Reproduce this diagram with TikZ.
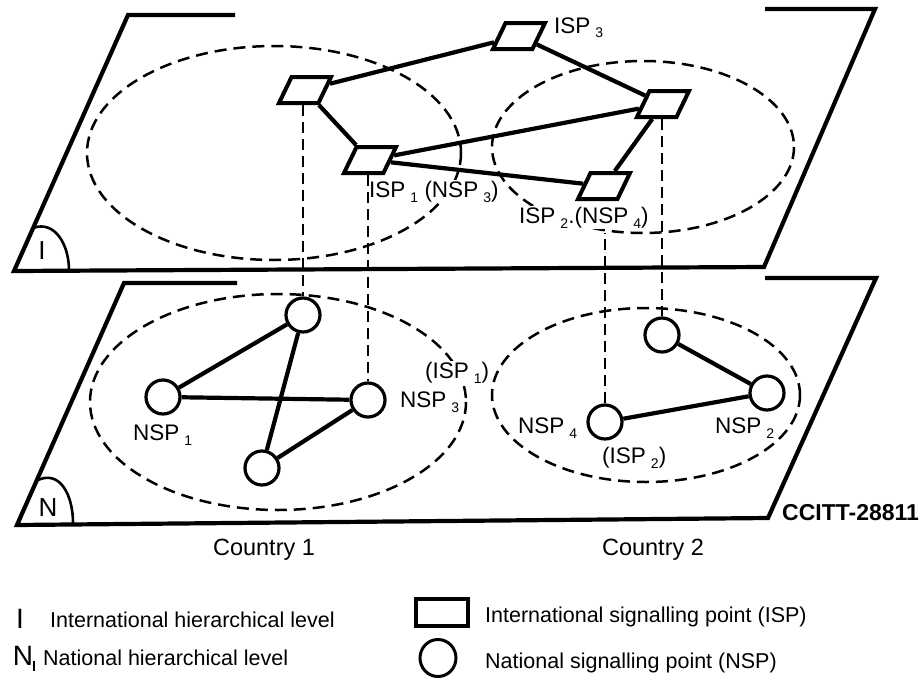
\documentclass[tikz,border=0pt]{standalone}
\usepackage{fontspec}
\setmainfont{Liberation Sans}
\usetikzlibrary{shapes.geometric}
\newcommand\lsub[1]{\hspace{5pt}\raisebox{-5pt}{\fontsize{14}{14}\selectfont #1}}
\begin{document}
\begin{tikzpicture}[x=1pt,y=-1pt,
  plane/.style={line width=4.2pt, line join=miter},
  isp/.style={trapezium, trapezium left angle=65, trapezium right angle=115,
    trapezium stretches=true, draw, line width=4pt, minimum width=52pt,
    minimum height=26pt, inner sep=1pt},
  nsp/.style={circle, draw, line width=3.2pt, minimum size=34pt, inner sep=0pt},
  link/.style={line width=4.2pt},
  vdash/.style={line width=2.5pt, dash pattern=on 11pt off 6pt},
  area/.style={line width=2.5pt, dash pattern=on 12pt off 7pt},
  lbl/.style={font=\fontsize{22.5}{26}\selectfont, inner sep=1pt, fill=white},
  leg/.style={font=\fontsize{21.5}{24}\selectfont, inner sep=0pt},
]
\useasboundingbox (0,0) rectangle (924,680);

% planes
\draw[plane] (235,15) -- (128,15) -- (14,271) -- (764,267) -- (875,9) -- (765,9);
\draw[plane] (237,283) -- (124,283) -- (17,525) -- (768,518) -- (876,278) -- (765,278);
\draw[line width=2.6pt] (33,228) .. controls (55,220) and (69,245) .. (69,270);
\draw[line width=2.6pt] (38,480) .. controls (60,470) and (73,495) .. (73,523);
\node[font=\fontsize{26}{26}\selectfont, inner sep=0pt] (lvI) at (42,251) {I};
\node[font=\fontsize{26}{26}\selectfont, inner sep=0pt] (lvN) at (48,508) {N};

% domain ellipses
\draw[area] (274,153) ellipse [x radius=187, y radius=107];
\draw[area] (643,147) ellipse [x radius=151, y radius=86];
\draw[area] (278,402) ellipse [x radius=188, y radius=108];
\draw[area] (646,395) ellipse [x radius=154, y radius=87];

% labels
\node[lbl, anchor=base west] (tI3) at (553,33) {ISP\lsub{3}};
\node[lbl, anchor=base west] (tI1) at (368,197) {ISP\lsub{1} (NSP\lsub{3})};
\node[lbl, anchor=base west] (tI2) at (518,223) {ISP\lsub{2}.(NSP\lsub{4})};
\node[lbl, anchor=base west] (tI1b) at (424,378) {(ISP\lsub{1})};
\node[lbl, anchor=base west] (tN3) at (399,407) {NSP\lsub{3}};
\node[lbl, anchor=base west] (tN1) at (132,440) {NSP\lsub{1}};
\node[lbl, anchor=base west] (tN4) at (517,433) {NSP\lsub{4}};
\node[lbl, anchor=base west] (tI2b) at (601,463) {(ISP\lsub{2})};
\node[lbl, anchor=base west] (tN2) at (714,433) {NSP\lsub{2}};
\node[lbl, anchor=base west, font=\fontsize{23}{26}\selectfont\bfseries] (tcc) at (781,520) {CCITT-28811};
\node[lbl, anchor=base, font=\fontsize{23.5}{26}\selectfont] (tc1) at (264,555) {Country 1};
\node[lbl, anchor=base, font=\fontsize{23.5}{26}\selectfont] (tc2) at (653,555) {Country 2};

% international signalling points
\node[isp] (ia) at (305,90) {};
\node[isp] (i1) at (370,160) {};
\node[isp] (i3) at (519,36) {};
\node[isp] (ir) at (663,104) {};
\node[isp] (i2) at (604,186) {};

% national signalling points
\node[nsp] (c1) at (303,315) {};
\node[nsp] (n1) at (163,397) {};
\node[nsp] (n3) at (368,400) {};
\node[nsp] (c4) at (262,468) {};
\node[nsp] (c5) at (662,335) {};
\node[nsp] (n2) at (767,393) {};
\node[nsp] (n4) at (605,422) {};

% links
\draw[link] (ia) -- (i3);
\draw[link] (ia) -- (i1);
\draw[link] (i3) -- (ir);
\draw[link] (i1) -- (ir);
\draw[link] (i1) -- (i2);
\draw[link] (i2) -- (ir);
\draw[link] (n1) -- (c1);
\draw[link] (n1) -- (n3);
\draw[link] (c1) -- (c4);
\draw[link] (c4) -- (n3);
\draw[link] (c5) -- (n2);
\draw[link] (n4) -- (n2);

% vertical correspondences
\coordinate (e4) at (605,233);
\draw[vdash] (c1.north |- ia.south) -- (c1.north);
\draw[vdash] (n3.north |- i1.south) -- (n3.north);
\draw[vdash] (c5.north |- ir.south) -- (c5.north);
\draw[vdash] (n4.north) -- (e4);

% legend
\node[font=\fontsize{28}{28}\selectfont, inner sep=0pt, anchor=base] (lgI) at (20,628) {I};
\node[leg, anchor=base west] (lgIt) at (50,627) {International hierarchical level};
\node[font=\fontsize{28}{28}\selectfont, inner sep=0pt, anchor=base] (lgN) at (23,665) {N};
\coordinate (tk1) at (34,661);
\coordinate (tk2) at (34,671);
\draw[line width=1.8pt] (tk1) -- (tk2);
\node[leg, anchor=base west] (lgNt) at (43,665) {National hierarchical level};
\node[draw, line width=4pt, minimum width=52pt, minimum height=27pt, inner sep=0pt] (lgR) at (442,612) {};
\node[leg, anchor=base west] (lgRt) at (485,622) {International signalling point (ISP)};
\node[draw, ellipse, line width=3pt, minimum width=36pt, minimum height=37pt, inner sep=0pt] (lgC) at (438,658) {};
\node[leg, anchor=base west] (lgCt) at (485,668) {National signalling point (NSP)};
\end{tikzpicture}
\end{document}
